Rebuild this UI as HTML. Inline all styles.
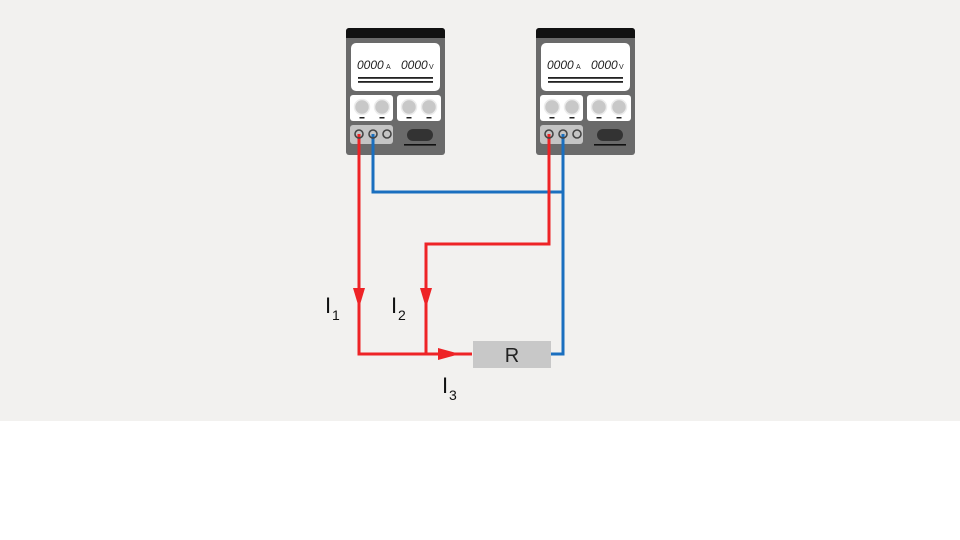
<!DOCTYPE html>
<html><head><meta charset="utf-8"><style>
html,body{margin:0;padding:0;background:#fff;}
svg{display:block;}
text{font-family:"Liberation Sans",sans-serif;}
</style></head><body>
<svg width="960" height="540" viewBox="0 0 960 540" xmlns="http://www.w3.org/2000/svg">
<defs>
<g id="ps">
  <rect x="346" y="28" width="99" height="127" rx="3" fill="#6a6a6a"/>
  <path d="M346 31 a3 3 0 0 1 3 -3 h93 a3 3 0 0 1 3 3 v7 h-99z" fill="#111"/>
  <rect x="351" y="43" width="89" height="48" rx="5" fill="#fff"/>
  <text x="357" y="69" font-size="12" font-style="italic" fill="#222">0000</text>
  <text x="386" y="69" font-size="7" fill="#222">A</text>
  <text x="401" y="69" font-size="12" font-style="italic" fill="#222">0000</text>
  <text x="429" y="69" font-size="7" fill="#222">V</text>
  <rect x="358" y="77" width="75" height="1.8" fill="#222"/>
  <rect x="358" y="81" width="75" height="1.8" fill="#222"/>
  <rect x="350" y="95" width="43" height="26" rx="3" fill="#fff"/>
  <rect x="397" y="95" width="44" height="26" rx="3" fill="#fff"/>
  <g fill="#c8c8c8" stroke="#ececec" stroke-width="1.5">
    <circle cx="362" cy="107" r="7.5"/><circle cx="382" cy="107" r="7.5"/>
    <circle cx="409" cy="107" r="7.5"/><circle cx="429" cy="107" r="7.5"/>
  </g>
  <g fill="#222">
    <rect x="359.5" y="117" width="5" height="1.5"/><rect x="379.5" y="117" width="5" height="1.5"/>
    <rect x="406.5" y="117" width="5" height="1.5"/><rect x="426.5" y="117" width="5" height="1.5"/>
  </g>
  <rect x="350" y="125" width="43" height="19" rx="3" fill="#c4c4c4"/>
  <rect x="407" y="129" width="26" height="12" rx="6" fill="#333"/>
  <rect x="404" y="144" width="32" height="1.6" fill="#111"/>
</g>
<g id="term" fill="none" stroke="#444" stroke-width="1.6">
  <circle cx="359" cy="134" r="4"/><circle cx="373" cy="134" r="4"/><circle cx="387" cy="134" r="4"/>
</g>
</defs>
<rect x="0" y="0" width="960" height="421" fill="#f2f1ef"/>
<use href="#ps"/>
<use href="#ps" transform="translate(190,0)"/>
<polyline points="373,134 373,192 563,192" fill="none" stroke="#1a6fbf" stroke-width="3"/>
<polyline points="563,134 563,354 551,354" fill="none" stroke="#1a6fbf" stroke-width="3"/>
<polyline points="359,134 359,354 472,354" fill="none" stroke="#ee2326" stroke-width="3"/>
<polyline points="549,134 549,244 426,244 426,354" fill="none" stroke="#ee2326" stroke-width="3"/>
<use href="#term"/>
<use href="#term" transform="translate(190,0)"/>
<polygon points="353,288 365,288 359,308" fill="#ee2326"/>
<polygon points="420,288 432,288 426,308" fill="#ee2326"/>
<polygon points="438,348 438,360 460,354" fill="#ee2326"/>
<rect x="473" y="341" width="78" height="27" fill="#c8c8c8"/>
<text x="512" y="362" font-size="20" text-anchor="middle" fill="#222">R</text>
<text x="325" y="313" font-size="22" fill="#111">I</text>
<text x="332" y="320" font-size="14" fill="#111">1</text>
<text x="391" y="313" font-size="22" fill="#111">I</text>
<text x="398" y="320" font-size="14" fill="#111">2</text>
<text x="442" y="393" font-size="22" fill="#111">I</text>
<text x="449" y="400" font-size="14" fill="#111">3</text>
</svg>
</body></html>
